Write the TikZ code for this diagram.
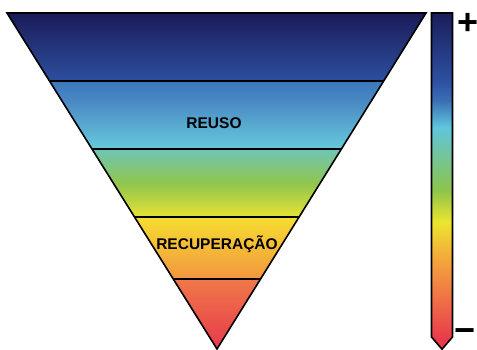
\documentclass[tikz,border=0pt]{standalone}
\usepackage{fontspec}
\setmainfont{Liberation Sans}
\usetikzlibrary{calc}
\definecolor{ta}{HTML}{E8394B}
\definecolor{tb}{HTML}{EF7849}
\definecolor{tc}{HTML}{F2963F}
\definecolor{td}{HTML}{F6DC30}
\definecolor{te}{HTML}{E6E234}
\definecolor{tf}{HTML}{8FC64E}
\definecolor{tg}{HTML}{70C5B4}
\definecolor{th}{HTML}{66CADB}
\definecolor{ti}{HTML}{4A88C4}
\definecolor{tj}{HTML}{3D78BC}
\definecolor{tk}{HTML}{2D4F9F}
\definecolor{tl}{HTML}{1A1B58}
\definecolor{ba}{HTML}{E93A4C}
\definecolor{bb}{HTML}{EF6F46}
\definecolor{bc}{HTML}{F4A53B}
\definecolor{bd}{HTML}{ECE52F}
\definecolor{be}{HTML}{8CC44C}
\definecolor{bf}{HTML}{5FC6DC}
\definecolor{bg}{HTML}{3B6EB5}
\definecolor{bh}{HTML}{2C4FA0}
\definecolor{bi}{HTML}{1B1D5A}
\pgfdeclareverticalshading{trishade}{100bp}{color(0bp)=(ta); color(25bp)=(ta); color(35.27bp)=(tb); color(35.42bp)=(tc); color(44.49bp)=(td); color(44.64bp)=(te); color(49.7bp)=(tf); color(54.61bp)=(tg); color(54.76bp)=(th); color(62bp)=(ti); color(64.73bp)=(tj); color(64.88bp)=(tk); color(75bp)=(tl); color(100bp)=(tl)}
\pgfdeclareverticalshading{barshade}{100bp}{color(0bp)=(ba); color(26.5bp)=(ba); color(32.3bp)=(bb); color(38.2bp)=(bc); color(43.9bp)=(bd); color(48.7bp)=(be); color(58bp)=(bf); color(62bp)=(bg); color(65bp)=(bh); color(75bp)=(bi); color(100bp)=(bi)}
\begin{document}
\begin{tikzpicture}[x=1pt,y=1pt,
  edge/.style={line width=1.6pt, line join=miter},
  divider/.style={line width=1.3pt},
  lbl/.style={font=\bfseries\fontsize{15.5}{18}\selectfont, anchor=base, inner sep=0pt},
  sign/.style={font=\bfseries\fontsize{36}{40}\selectfont, inner sep=0pt}]
\useasboundingbox (0,0) rectangle (477,350);
\coordinate (TL) at (7,337);
\coordinate (TR) at (426,337);
\coordinate (A) at (217,1);
\shade[shading=trishade] (TL) -- (TR) -- (A) -- cycle;
\foreach \t in {0.2024,0.4048,0.6071,0.7917}{
  \draw[divider] ($(TL)!\t!(A)$) -- ($(TR)!\t!(A)$);
}
\draw[edge] (TL) -- (TR) -- (A) -- cycle;
\coordinate (BTL) at (431.5,337);
\coordinate (BTR) at (452.5,337);
\coordinate (BBR) at (452.5,13);
\coordinate (BP) at (442,0.8);
\coordinate (BBL) at (431.5,13);
\shade[shading=barshade] (BTL) -- (BTR) -- (BBR) -- (BP) -- (BBL) -- cycle;
\draw[edge] (BTL) -- (BTR) -- (BBR) -- (BP) -- (BBL) -- cycle;
\node[lbl] (reuso) at (214,221) {REUSO};
\node[lbl] (recup) at (217,100) {RECUPERAÇÃO};
\node[sign] (plus) at (468,326.5) {+};
\node[sign, anchor=base] (minus) at (465,7.8) {−};
\end{tikzpicture}
\end{document}
